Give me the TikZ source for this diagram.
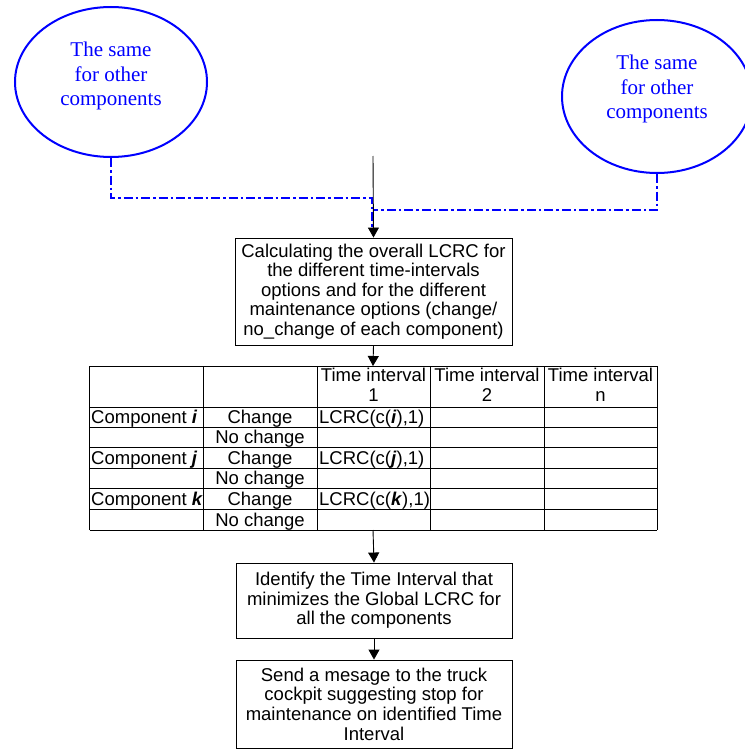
\documentclass[tikz,border=0pt]{standalone}
\usepackage{fontspec}
\setmainfont{Liberation Sans}
\newfontfamily\tmsfont{Liberation Serif}
\usetikzlibrary{shapes.geometric,arrows.meta}
\begin{document}
\begin{tikzpicture}[x=1pt,y=-1pt,
  ell/.style={draw=blue,line width=2pt,ellipse,inner sep=0pt},
  elltext/.style={text=blue,align=center,font=\tmsfont\fontsize{21}{24.5}\selectfont,inner sep=0pt},
  flowbox/.style={draw,line width=0.9pt,align=center,inner sep=0pt,font=\fontsize{18.5}{19.6}\selectfont},
  dashdot/.style={draw=blue,line width=2pt,dash pattern=on 9pt off 3pt on 2.5pt off 3pt},
  arr/.style={draw,line width=0.9pt,-{Triangle[width=11pt,length=10pt]}},
  cell/.style={inner sep=0pt,font=\fontsize{18.5}{20}\selectfont},
  cellc/.style={cell,anchor=base},
  celll/.style={cell,anchor=base west},
  gridline/.style={line width=0.8pt}
]
\useasboundingbox (0,0) rectangle (744,749);

% ellipses
\node[ell,minimum width=192pt,minimum height=150pt] (e1) at (111,82) {};
\node[elltext] (e1t) at (111,76) {The same\\for other\\components};
\node[ell,minimum width=190pt,minimum height=153pt] (e2) at (657,96.5) {};
\node[elltext] (e2t) at (657,89) {The same\\for other\\components};

% flow boxes
\node[flowbox,minimum width=277pt,minimum height=107pt] (b1) at (373.5,291.5)
  {Calculating the overall LCRC for\\the different time-intervals\\options and for the different\\maintenance options (change/\\no\_change of each component)};
\node[flowbox,minimum width=276pt,minimum height=75pt] (b2) at (374,600.5)
  {Identify the Time Interval that\\minimizes the Global LCRC for\\all the components};
\node[flowbox,minimum width=276pt,minimum height=88pt] (b3) at (374,704)
  {Send a mesage to the truck\\cockpit suggesting stop for\\maintenance on identified Time\\Interval};

% connector coordinates
\coordinate (top) at (373,156);
\coordinate (j1) at (372,198);
\coordinate (j2) at (374,210);
\coordinate (j3) at (372,228);
\coordinate (tabtop) at (373,366);
\coordinate (tabbot) at (373,530);

% dash-dot connectors
\draw[dashdot] (e1.south) |- (j1) -- (j3);
\draw[dashdot] (e2.south) |- (j2);

% arrows
\draw[arr] (top) -- (b1.north);
\draw[arr] (b1.south) -- (tabtop);
\draw[arr] (tabbot) -- (b2.north);
\draw[arr] (b2.south) -- (b3.north);

% table grid
\foreach \xx in {89.5,203,317,430,544,657}
  \draw[gridline] (\xx,366) -- (\xx,530);
\foreach \yy in {366,407,427,447,468,488,509,530}
  \draw[gridline] (89.5,\yy) -- (657,\yy);

% header
\node[cellc] (h1a) at (373.5,381) {Time interval};
\node[cellc] (h1b) at (373.5,401) {1};
\node[cellc] (h2a) at (487,381) {Time interval};
\node[cellc] (h2b) at (487,401) {2};
\node[cellc] (h3a) at (600.5,381) {Time interval};
\node[cellc] (h3b) at (600.5,401) {n};

% rows
\node[celll] (ci) at (91,423) {Component \textbf{\textit{i}}};
\node[cellc] (chi) at (260,423) {Change};
\node[celll] (li) at (319,423) {LCRC(c(\textbf{\textit{i}}),1)};
\node[cellc] (ni) at (260,443) {No change};
\node[celll] (cj) at (91,464) {Component \textbf{\textit{j}}};
\node[cellc] (chj) at (260,464) {Change};
\node[celll] (lj) at (319,464) {LCRC(c(\textbf{\textit{j}}),1)};
\node[cellc] (nj) at (260,484) {No change};
\node[celll] (ck) at (91,505) {Component \textbf{\textit{k}}};
\node[cellc] (chk) at (260,505) {Change};
\node[celll] (lk) at (319,505) {LCRC(c(\textbf{\textit{k}}),1)};
\node[cellc] (nk) at (260,526) {No change};
\end{tikzpicture}
\end{document}
